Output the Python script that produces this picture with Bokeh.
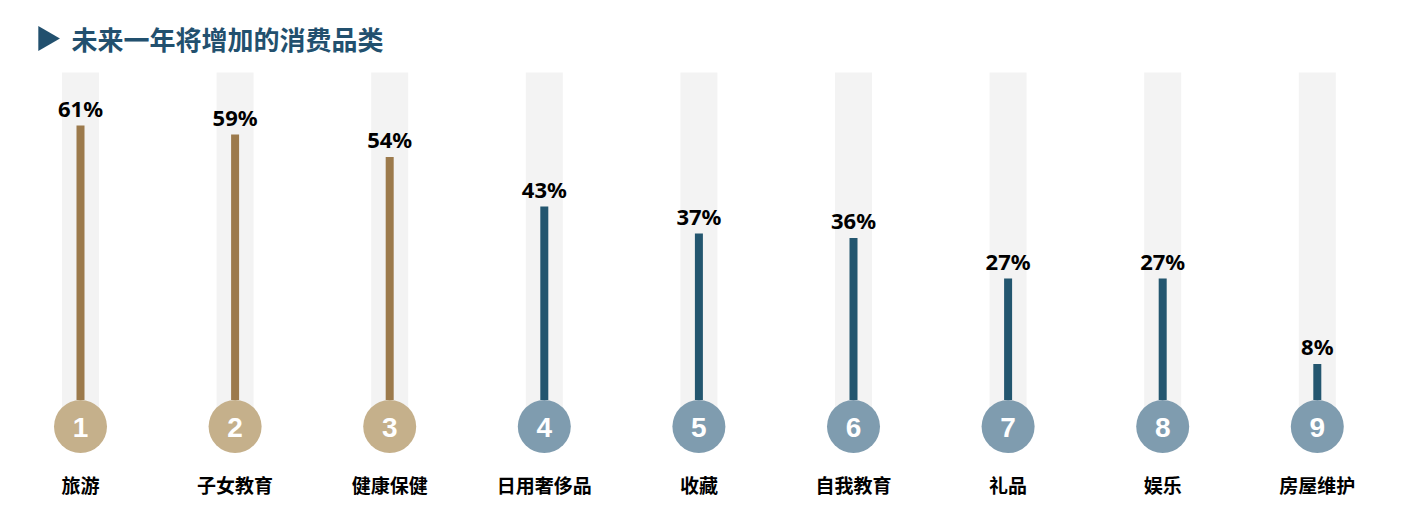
import math
from bokeh.plotting import figure
from bokeh.models import ColumnDataSource, Range1d
from bokeh.core.properties import value
from bokeh.embed import file_html
from bokeh.resources import INLINE

title = "未来一年将增加的消费品类"
categories = ["旅游", "子女教育", "健康保健", "日用奢侈品", "收藏", "自我教育", "礼品", "娱乐", "房屋维护"]
values = [61, 59, 54, 43, 37, 36, 27, 27, 8]
ranks = ["1", "2", "3", "4", "5", "6", "7", "8", "9"]
highlight = [True, True, True, False, False, False, False, False, False]

BAR_GOLD = "#9c7a4c"
BAR_BLUE = "#23566f"
CIRC_GOLD = "#c5b08b"
CIRC_BLUE = "#7f9caf"
TITLE_COLOR = "#22506e"

n = len(categories)
xs = list(range(n))
src = ColumnDataSource(dict(
    x=xs,
    val=values,
    top=values,
    label=[f"{v}%" for v in values],
    rank=ranks,
    cat=categories,
    bar_color=[BAR_GOLD if h else BAR_BLUE for h in highlight],
    circ_color=[CIRC_GOLD if h else CIRC_BLUE for h in highlight],
    bg_top=[72.8] * n,
    bg_bottom=[-5.9] * n,
    zero=[0] * n,
    circ_y=[-5.9] * n,
    cat_y=[-18.7] * n,
))

W, H = 1385, 501
OX, OY = 0, 0  # page offset of the frame as observed
px_per_x = 154.6
x0 = -(80 - OX) / px_per_x
x1 = x0 + W / px_per_x
px_per_y = 4.5
y1 = (399.5 - OY) / px_per_y
y0 = -((OY + H) - 399.5) / px_per_y

p = figure(width=W, height=H, output_backend="svg", toolbar_location=None,
           x_range=Range1d(x0, x1), y_range=Range1d(y0, y1), min_border=0)
p.axis.visible = False
p.grid.visible = False
p.outline_line_color = None
p.background_fill_color = "white"
p.border_fill_color = "white"

# background tracks
p.vbar(x="x", top="bg_top", bottom="bg_bottom", width=37 / px_per_x, source=src,
       fill_color="#f3f3f3", line_color=None)
# value bars
p.vbar(x="x", top="top", bottom="zero", width=8 / px_per_x, source=src,
       fill_color="bar_color", line_color=None)
# rank circles
p.scatter(x="x", y="circ_y", size=53, source=src, fill_color="circ_color", line_color=None)
p.text(x="x", y="circ_y", text="rank", source=src, text_align="center", text_baseline="middle",
       text_color="white", text_font=value("Liberation Sans"), text_font_style="bold",
       text_font_size="28px", y_offset=1)
# value labels
p.text(x="x", y="top", text="label", source=src, text_align="center", text_baseline="bottom",
       text_color="black", text_font=value("Noto Sans"), text_font_style="bold",
       text_font_size="22px", y_offset=-3)
# category labels
p.text(x="x", y="cat_y", text="cat", source=src, text_align="center", text_baseline="middle",
       text_color="black", text_font=value("Noto Sans CJK SC"), text_font_style="bold",
       text_font_size="19px")

# title
tx = (45 - 80) / px_per_x
ty = (399.5 - 38) / px_per_y
p.scatter(x=[tx], y=[ty], marker="triangle", size=25, angle=-math.pi / 2,
          fill_color=TITLE_COLOR, line_color=None)
p.text(x=[(71 - 80) / px_per_x], y=[ty], text=[title], text_align="left", text_baseline="middle",
       text_color=TITLE_COLOR, text_font=value("Noto Sans CJK SC"), text_font_style="bold",
       text_font_size="26px")

open("out.html", "w").write(file_html(p, INLINE))
